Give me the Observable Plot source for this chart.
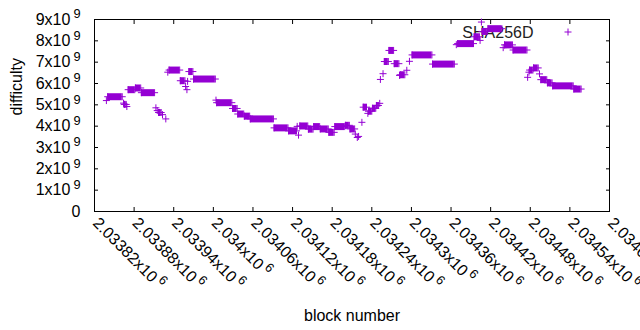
<!DOCTYPE html>
<html><head><meta charset="utf-8">
<script src="https://cdn.jsdelivr.net/npm/d3@7"></script>
<script src="https://cdn.jsdelivr.net/npm/@observablehq/plot@0.6"></script>
<style>
html,body{margin:0;padding:0;background:#fff;}
#chart{position:relative;width:640px;height:330px;}
</style></head><body><div id="chart"></div>
<script>
// Runs of blocks with a constant difficulty (start block, end block, difficulty)
const runStart = [2033838,2033840,2033864,2033865,2033869,2033871,2033882,2033891,2033913,2033915,2033917,2033923,2033928,2033931,2033933,2033950,2033958,2033960,2033961,2033963,2033970,2034004,2034005,2034029,2034037,2034047,2034056,2034092,2034114,2034127,2034129,2034131,2034144,2034152,2034162,2034175,2034184,2034200,2034207,2034215,2034218,2034220,2034225,2034227,2034234,2034235,2034241,2034247,2034252,2034253,2034257,2034259,2034266,2034274,2034282,2034283,2034293,2034297,2034301,2034332,2034368,2034370,2034395,2034404,2034406,2034407,2034416,2034439,2034441,2034454,2034476,2034478,2034479,2034485,2034494,2034496,2034506,2034514,2034546];
const runEnd   = [2033838,2033862,2033864,2033868,2033869,2033881,2033890,2033911,2033913,2033915,2033921,2033923,2033928,2033931,2033949,2033957,2033958,2033960,2033961,2033969,2034003,2034004,2034028,2034036,2034046,2034055,2034091,2034113,2034126,2034127,2034129,2034143,2034151,2034161,2034174,2034183,2034199,2034206,2034214,2034215,2034218,2034220,2034225,2034232,2034234,2034240,2034246,2034250,2034252,2034253,2034257,2034265,2034273,2034281,2034282,2034290,2034293,2034297,2034331,2034365,2034368,2034394,2034403,2034404,2034406,2034415,2034437,2034439,2034453,2034475,2034476,2034478,2034484,2034492,2034494,2034505,2034513,2034545,2034557];
const runDifficulty = [5.20e9,5.38e9,5.08e9,5.02e9,4.92e9,5.71e9,5.79e9,5.57e9,4.86e9,4.73e9,4.64e9,4.54e9,4.34e9,6.53e9,6.63e9,6.13e9,5.86e9,5.71e9,6.10e9,6.56e9,6.21e9,5.22e9,5.10e9,4.83e9,4.57e9,4.47e9,4.34e9,3.92e9,3.78e9,3.99e9,3.58e9,4.01e9,3.86e9,3.98e9,3.87e9,3.71e9,3.98e9,4.04e9,3.87e9,3.63e9,3.47e9,3.52e9,4.18e9,4.89e9,4.60e9,4.70e9,4.84e9,4.97e9,5.07e9,6.19e9,6.46e9,7.03e9,7.55e9,6.93e9,6.38e9,6.41e9,6.62e9,7.04e9,7.34e9,6.91e9,7.82e9,7.87e9,8.19e9,8.02e9,8.88e9,8.44e9,8.57e9,7.68e9,7.81e9,7.57e9,6.29e9,6.53e9,6.63e9,6.73e9,6.45e9,6.18e9,6.03e9,5.89e9,5.74e9];

const seriesName = "SHA256D";
const xTitle = "block number";
const yTitle = "difficulty";
const xTicks = [2033820,2033880,2033940,2034000,2034060,2034120,2034180,2034240,2034300,2034360,2034420,2034480,2034540,2034600];
const xTickLabels = ["2.03382","2.03388","2.03394","2.034","2.03406","2.03412","2.03418","2.03424","2.0343","2.03436","2.03442","2.03448","2.03454","2.0346"];
const xTickExponent = "6";
const yTicks = [0,1e9,2e9,3e9,4e9,5e9,6e9,7e9,8e9,9e9];
const yTickLabels = ["0","1","2","3","4","5","6","7","8","9"];
const yTickExponent = "9";

const color = "#9400d3";
const runs = runStart.map((s, i) => ({start: s, end: runEnd[i], difficulty: runDifficulty[i]}));
const points = runs.flatMap(r => r.start === r.end
  ? [{block: r.start, difficulty: r.difficulty}]
  : [{block: r.start, difficulty: r.difficulty}, {block: r.end, difficulty: r.difficulty}]);

const plusSymbol = {draw(ctx) { const r = 3.5; ctx.moveTo(-r, 0); ctx.lineTo(r, 0); ctx.moveTo(0, -r); ctx.lineTo(0, r); }};

const xFmt = d => { const i = xTicks.indexOf(d); return xTickLabels[i] + "x10^" + xTickExponent; };
const yFmt = d => { const i = yTicks.indexOf(d); return d === 0 ? yTickLabels[i] : yTickLabels[i] + "x10^" + yTickExponent; };

const chart = Plot.plot({
  width: 640, height: 330,
  marginLeft: 94, marginRight: 31, marginTop: 19, marginBottom: 119,
  x: {domain: [2033820, 2034600]},
  y: {domain: [0, 9e9]},
  style: {fontFamily: "'Liberation Sans', Arial, sans-serif", fontSize: "16px", background: "white", color: "black", overflow: "visible"},
  marks: [
    Plot.axisY(yTicks, {anchor: "left", tickSize: 0, tickPadding: 14, tickFormat: yFmt, fill: "black", label: null}),
    Plot.axisY(yTicks, {anchor: "left", tickSize: -4, tickFormat: () => "", label: null}),
    Plot.axisY(yTicks, {anchor: "right", tickSize: -4, tickFormat: () => "", label: null}),
    Plot.axisX(xTicks, {anchor: "bottom", tickSize: 0, tickPadding: 9, tickRotate: 45, dx: 1, tickFormat: xFmt, fill: "black", label: null}),
    Plot.axisX(xTicks, {anchor: "bottom", tickSize: -4, tickFormat: () => "", label: null}),
    Plot.axisX(xTicks, {anchor: "top", tickSize: -4, tickFormat: () => "", label: null}),
    Plot.frame({stroke: "black"}),
    Plot.text([xTitle], {frameAnchor: "bottom", dy: 104, lineAnchor: "middle", fill: "black", fontSize: 16}),
    Plot.text([yTitle], {frameAnchor: "left", dx: -78, rotate: -90, lineAnchor: "middle", fill: "black", fontSize: 16}),
    Plot.text([seriesName], {frameAnchor: "top-right", dx: -76, dy: 13, textAnchor: "end", lineAnchor: "middle", fill: "#222", fontSize: 16}),
    Plot.dot([seriesName], {frameAnchor: "top-right", dx: -41.5, dy: 12.5, symbol: plusSymbol, stroke: color, fill: "none", strokeWidth: 1}),
    Plot.ruleY(runs.filter(d => d.end > d.start), {x1: "start", x2: "end", y: "difficulty", stroke: color, strokeWidth: 7}),
    Plot.dot(points, {x: "block", y: "difficulty", symbol: plusSymbol, stroke: color, fill: "none", strokeWidth: 1})
  ]
});

// Render "x10^n" tick labels with a real superscript
d3.select(chart).selectAll("text").each(function() {
  const t = this.textContent;
  const m = /^(.*x10)\^(\d+)$/.exec(t);
  if (!m) return;
  const sel = d3.select(this);
  sel.text(null);
  sel.append("tspan").text(m[1]);
  sel.append("tspan").attr("dx", "3").attr("dy", "-0.5em").attr("font-size", "12.8px").text(m[2]);
});

document.getElementById("chart").append(chart);
</script></body></html>
